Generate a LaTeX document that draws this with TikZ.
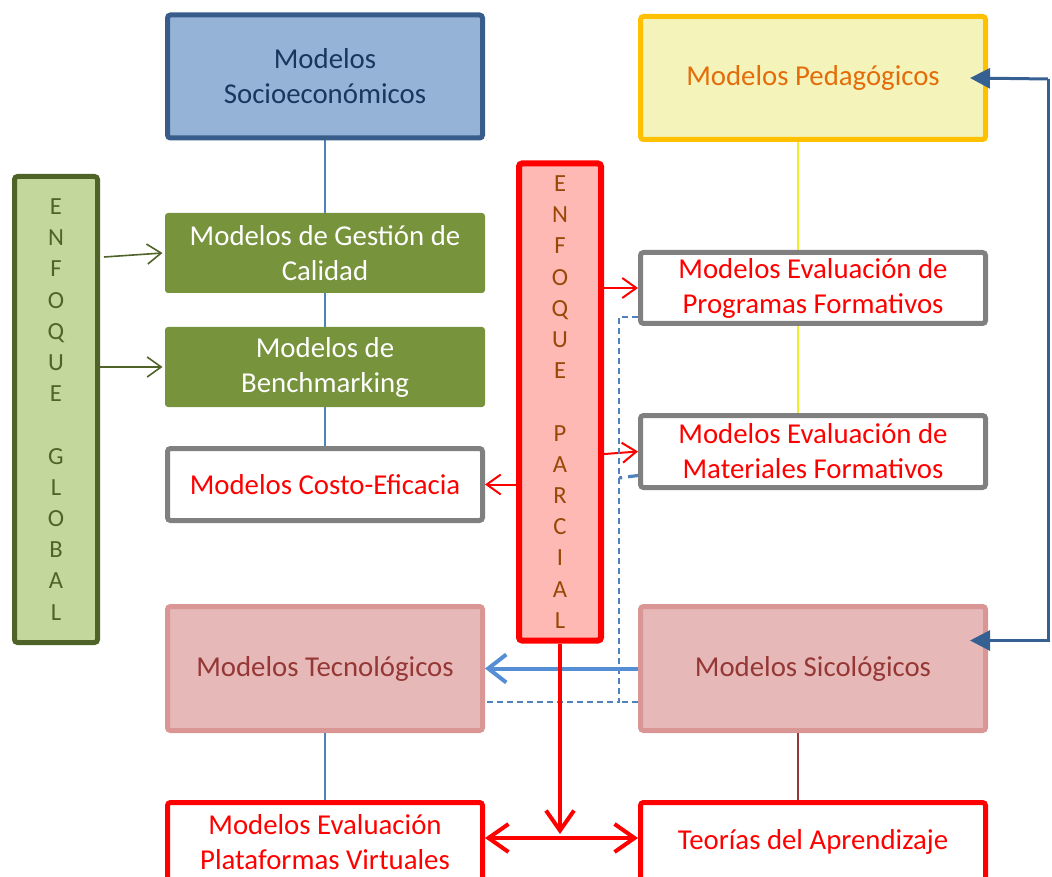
\documentclass[tikz,border=0pt]{standalone}
\usepackage{fontspec}
\setmainfont{Carlito}
\usetikzlibrary{arrows.meta,backgrounds}
\definecolor{socfill}{RGB}{149,179,215}
\definecolor{socline}{RGB}{56,93,138}
\definecolor{soctext}{RGB}{23,55,94}
\definecolor{pedfill}{RGB}{244,244,186}
\definecolor{pedline}{RGB}{255,192,0}
\definecolor{pedtext}{RGB}{228,108,10}
\definecolor{globfill}{RGB}{195,214,155}
\definecolor{globline}{RGB}{79,98,40}
\definecolor{gestfill}{RGB}{119,147,60}
\definecolor{evalline}{RGB}{128,128,128}
\definecolor{parcfill}{RGB}{255,185,180}
\definecolor{parctext}{RGB}{152,72,6}
\definecolor{tecfill}{RGB}{230,185,184}
\definecolor{tecline}{RGB}{217,150,148}
\definecolor{tectext}{RGB}{149,55,53}
\definecolor{linkblue}{RGB}{79,129,189}
\definecolor{arrblue}{RGB}{85,142,213}
\definecolor{darkblue}{RGB}{55,96,146}
\definecolor{linkyellow}{RGB}{240,240,40}
\begin{document}
\begin{tikzpicture}[x=0.5pt,y=-0.5pt,
  box/.style={draw,line width=2.5pt,rounded corners=1.5pt,align=center,inner sep=0pt,
    font=\fontsize{14.4}{17.5}\selectfont},
  leftbox/.style={box,minimum width=157.5pt},
  rightbox/.style={box,minimum width=172.5pt},
  stackbox/.style={box,minimum width=41.5pt,font=\fontsize{12.3}{15.6}\selectfont},
  greenbox/.style={box,draw=none,fill=gestfill,text=white,minimum width=160pt,minimum height=40pt},
  evalbox/.style={draw=evalline,fill=white,text=red},
  redbox/.style={draw=red,fill=white,text=red},
  techbox/.style={draw=tecline,fill=tecfill,text=tectext,minimum height=62pt},
  thinlink/.style={line width=0.75pt},
  barb/.style={-{Straight Barb[length=7pt,width=10pt]}},
  garrow/.style={barb,draw=globline,line width=0.8pt},
  rarrow/.style={barb,draw=red,line width=1pt},
  bigred/.style={draw=red,line width=2pt},
  dashlink/.style={draw=linkblue,line width=0.75pt,dash pattern=on 3pt off 2pt}]
\useasboundingbox (0,0) rectangle (1052,876);

% upper row
\node[leftbox,draw=socline,fill=socfill,text=soctext,minimum height=61.5pt] (socio) at (325,76.5) {Modelos\\Socioecon\'omicos};
\node[rightbox,draw=pedline,fill=pedfill,text=pedtext,minimum height=61.5pt] (ped) at (813,78) {Modelos Pedag\'ogicos};

% global approach
\node[stackbox,draw=globline,fill=globfill,text=globline,minimum height=233pt] (glob) at (56,409.5)
  {E\\N\\F\\O\\Q\\U\\E\\[15.6pt]G\\L\\O\\B\\A\\L};
\node[greenbox] (gest) at (325,253) {Modelos de Gesti\'on de\\Calidad};
\node[greenbox] (bench) at (325,367) {Modelos de\\Benchmarking};
\node[leftbox,evalbox,minimum height=36pt] (costo) at (325,484.5) {Modelos Costo-Eficacia};

% partial approach
\node[stackbox,draw=red,line width=3pt,fill=parcfill,text=parctext,minimum width=41pt,minimum height=238.5pt] (parc) at (560,402)
  {E\\N\\F\\O\\Q\\U\\E\\[15.6pt]P\\A\\R\\C\\I\\A\\L};
\node[rightbox,evalbox,minimum height=35.5pt] (prog) at (813,288) {Modelos Evaluaci\'on de\\Programas Formativos};
\node[rightbox,evalbox,minimum height=36pt] (mat) at (813,451.5) {Modelos Evaluaci\'on de\\Materiales Formativos};

% lower rows
\node[leftbox,techbox] (tecno) at (325,668.5) {Modelos Tecnol\'ogicos};
\node[rightbox,techbox] (sico) at (813,668.5) {Modelos Sicol\'ogicos};
\node[leftbox,redbox,minimum height=39.5pt] (plat) at (325,842) {Modelos Evaluaci\'on\\Plataformas Virtuales};
\node[rightbox,redbox,minimum height=39.5pt] (teor) at (813,842) {Teor\'ias del Aprendizaje};

\begin{scope}[on background layer]
\draw[thinlink,linkblue] (socio.south) -- (costo.north);
\draw[thinlink,linkyellow] ([xshift=-7.5pt]ped.south) -- ([xshift=-7.5pt]mat.north);
\end{scope}
\draw[thinlink,linkblue] (tecno.south) -- (plat.north);
\draw[thinlink,tectext] ([xshift=-7.5pt]sico.south) -- ([xshift=-7.5pt]teor.north);

\draw[garrow] ([xshift=2pt,yshift=-2pt]glob.east |- gest.west) -- (gest.west);
\draw[garrow] (glob.east |- bench.west) -- (bench.west);
\draw[rarrow] (parc.east |- prog.west) -- (prog.west);
\draw[rarrow] ([xshift=-3pt,yshift=-1.5pt]parc.east |- mat.west) -- (mat.west);
\draw[rarrow] (parc.west |- costo.east) -- (costo.east);

% dashed links
\coordinate (dc) at (619,702);
\draw[dashlink] ([yshift=-14.5pt]prog.west) -| (dc) -- (tecno.east |- dc);
\draw[dashlink] (sico.west |- dc) -- (dc);
\draw[dashlink,line width=1.6pt,dash pattern=on 5pt off 3pt] ([yshift=-12pt]mat.west) -- (dc |- 0,478);

\draw[draw=arrblue,line width=2pt,-{Straight Barb[length=9pt,width=14pt]}] (sico.west) -- (tecno.east);

% red links to the bottom row
\coordinate (hit) at (parc.south |- plat.east);
\draw[bigred,-{Straight Barb[length=10pt,width=14pt]}] (parc.south) -- ([yshift=4pt]hit);
\draw[bigred,{Straight Barb[length=10pt,width=14pt]}-{Straight Barb[length=10pt,width=14pt]}] ([yshift=2pt]plat.east) -- ([yshift=2pt]teor.west);

% feedback on the right
\coordinate (rt) at (1048,79);
\draw[darkblue,line width=1.5pt,-{Triangle[length=10pt,width=10pt]}] (rt) -- ([xshift=-9pt]ped.east);
\draw[darkblue,line width=1.5pt,-{Triangle[length=10pt,width=10pt]}] (rt) |- ([xshift=-9pt,yshift=14pt]sico.east);
\end{tikzpicture}
\end{document}
